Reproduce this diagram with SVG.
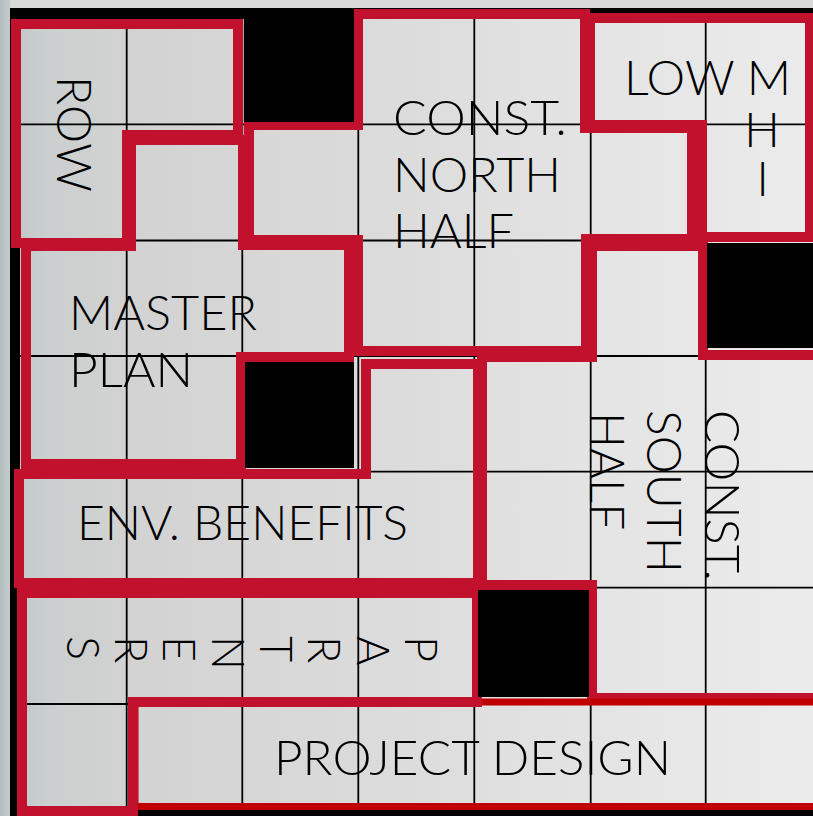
<svg xmlns="http://www.w3.org/2000/svg" width="813" height="816" viewBox="0 0 813 816">
<defs>
<linearGradient id="cellGrad" gradientUnits="userSpaceOnUse" x1="0" y1="0" x2="813" y2="0">
<stop offset="0" stop-color="#bcc4c4"/>
<stop offset="0.06" stop-color="#cbcfcf"/>
<stop offset="0.15" stop-color="#d2d2d2"/>
<stop offset="0.5" stop-color="#dcdcdc"/>
<stop offset="0.8" stop-color="#e6e6e6"/>
<stop offset="1" stop-color="#ebebeb"/>
</linearGradient>
<linearGradient id="sideGrad" gradientUnits="userSpaceOnUse" x1="0" y1="0" x2="10" y2="0">
<stop offset="0" stop-color="#b3bdbd"/>
<stop offset="1" stop-color="#c3caca"/>
</linearGradient>
</defs>
<style>
.reg{fill:none;stroke:#c1112d;stroke-width:10;stroke-linejoin:miter}
.pd{fill:none;stroke:#c00000;stroke-width:7}
.lbl{font-family:Lato,"Liberation Sans",sans-serif;font-weight:300;font-size:47px;fill:#000}
.grid line{stroke:#000;stroke-width:1.8}
.hole{fill:#000}
</style>
<g id="board">
<rect x="0" y="0" width="813" height="816" fill="#d8d8d8"/>
<rect x="0" y="0" width="10" height="816" fill="url(#sideGrad)"/>
<rect x="10" y="8" width="803" height="808" fill="#000"/>
<rect x="20" y="19" width="793" height="789" fill="url(#cellGrad)"/>
<g class="grid">
<line x1="126.7" y1="8" x2="126.7" y2="816"/>
<line x1="242.3" y1="8" x2="242.3" y2="816"/>
<line x1="358.3" y1="8" x2="358.3" y2="816"/>
<line x1="474.3" y1="8" x2="474.3" y2="816"/>
<line x1="590.7" y1="8" x2="590.7" y2="816"/>
<line x1="705.7" y1="8" x2="705.7" y2="816"/>
<line x1="10" y1="124.3" x2="813" y2="124.3"/>
<line x1="10" y1="240.5" x2="813" y2="240.5"/>
<line x1="10" y1="356" x2="813" y2="356"/>
<line x1="10" y1="471.7" x2="813" y2="471.7"/>
<line x1="10" y1="587.7" x2="813" y2="587.7"/>
<line x1="10" y1="704" x2="813" y2="704"/>
</g>
</g>
<g id="row">
<path class="reg" d="M16,24 H238 V135 H127 V243 H16 Z"/>
<text class="lbl" transform="translate(57,76) rotate(90)" textLength="116" lengthAdjust="spacingAndGlyphs">ROW</text>
</g>
<g id="master-plan">
<path class="reg" d="M26,246 H131 V140 H243 V245 H349 V357 H241 V464 H26 Z"/>
<text class="lbl" x="69" y="330" textLength="188" lengthAdjust="spacingAndGlyphs">MASTER</text>
<text class="lbl" x="69" y="387" textLength="124" lengthAdjust="spacingAndGlyphs">PLAN</text>
</g>
<g id="const-north">
<path class="reg" d="M249,125 H358 V14 H585 V128 H692 V239 H586 V351 H358 V240 H249 Z"/>
<text class="lbl" x="393" y="135" textLength="174" lengthAdjust="spacingAndGlyphs">CONST.</text>
<text class="lbl" x="393" y="192" textLength="168" lengthAdjust="spacingAndGlyphs">NORTH</text>
<text class="lbl" x="393" y="248" textLength="121" lengthAdjust="spacingAndGlyphs">HALF</text>
</g>
<g id="low-mhi">
<path class="reg" d="M590,18 H810 V237 H702 V125 H590 Z"/>
<text class="lbl"><tspan x="624" y="95" textLength="167" lengthAdjust="spacingAndGlyphs">LOW M</tspan><tspan x="762" y="147" text-anchor="middle">H</tspan><tspan x="762.5" y="196" text-anchor="middle">I</tspan></text>
</g>
<g id="const-south">
<path class="reg" d="M482,357 H592 V246 H703 V355 H820 V698 H592 V585 H482 Z"/>
<text class="lbl" transform="translate(705,410) rotate(90)" textLength="171" lengthAdjust="spacingAndGlyphs">CONST.</text>
<text class="lbl" transform="translate(647,410) rotate(90)" textLength="163" lengthAdjust="spacingAndGlyphs">SOUTH</text>
<text class="lbl" transform="translate(590,412) rotate(90)" textLength="118" lengthAdjust="spacingAndGlyphs">HALF</text>
</g>
<g id="project-design">
<path class="pd" d="M135,702 H820 V806.5 H135 Z"/>
<text class="lbl" x="274" y="775" textLength="397" lengthAdjust="spacingAndGlyphs">PROJECT DESIGN</text>
</g>
<g id="env-benefits">
<path class="reg" d="M19,474 H366 V364 H478 V583 H19 Z"/>
<text class="lbl" x="77" y="540" textLength="331" lengthAdjust="spacingAndGlyphs">ENV. BENEFITS</text>
</g>
<g id="partners">
<path class="reg" d="M22,593 H477 V702 H133 V811 H22 Z"/>
<text class="lbl" style="font-size:45px" x="405 357 308 260 212 163 115 67" y="636" rotate="90">PARTNERS</text>
</g>
<g id="holes">
<rect class="hole" x="244" y="8" width="110" height="114"/>
<rect class="hole" x="707" y="243" width="106" height="105"/>
<rect class="hole" x="245" y="362" width="109" height="106"/>
<rect class="hole" x="478" y="590" width="111" height="107"/>
</g>
</svg>
